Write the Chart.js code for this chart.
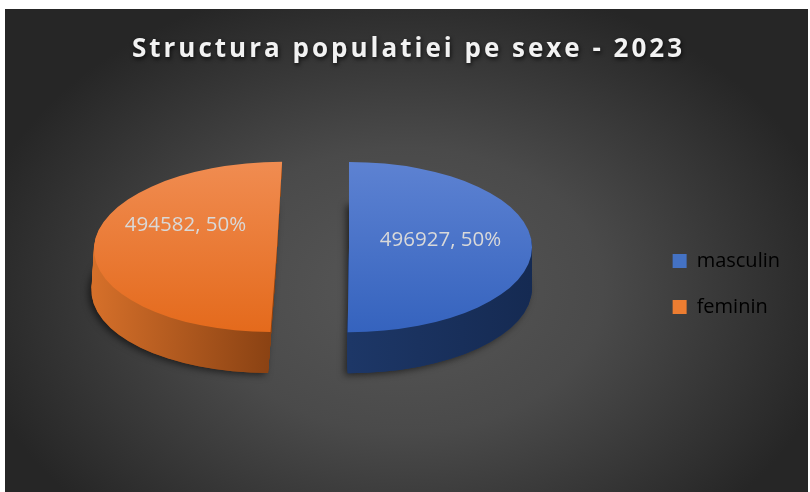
<!DOCTYPE html>
<html>
<head>
<meta charset="utf-8">
<script src="https://cdn.jsdelivr.net/npm/chart.js@4.4.0/dist/chart.umd.min.js"></script>
<style>
html,body{margin:0;padding:0;background:#fff}
#wrap{width:810px;height:492px}
</style>
</head>
<body>
<div id="wrap"><canvas id="chart" width="810" height="492"></canvas></div>
<script>
// data
const labels = ['masculin', 'feminin'];
const values = [496927, 494582];
const titleText = 'Structura populatiei pe sexe - 2023';

// colours: top face (top, bottom), side (cut edge, outer edge), legend swatch
const topColors = [['#5d82d2', '#3563be'], ['#f08c51', '#e46a1c']];
const sideColors = [['#1d3767', '#152a52'], ['#8a4213', '#d6702a']];
const legendColors = ['#4472c4', '#ed7d31'];

// fake 3d geometry
const PIE_X = 313, PIE_Y = 247, RADIUS = 183, SQUASH = 0.465, DEPTH = 41, EXPLODE = 36;
const SKEW = [0, -0.06];
const LABEL_LIFT = [7, 22];

const total = values.reduce((a, b) => a + b, 0);

function place(ctx, el, i, dy) {
  ctx.transform(1, 0, SKEW[i], 1, -SKEW[i] * PIE_Y, 0);
  ctx.translate(PIE_X, PIE_Y + dy);
  ctx.scale(1, SQUASH);
  const mid = (el.startAngle + el.endAngle) / 2;
  ctx.translate(Math.cos(mid) * EXPLODE - el.x, Math.sin(mid) * EXPLODE - el.y);
}
function wedge(ctx, el) {
  ctx.beginPath();
  ctx.moveTo(el.x, el.y);
  ctx.arc(el.x, el.y, el.outerRadius, el.startAngle, el.endAngle);
  ctx.closePath();
}

const pie3d = {
  id: 'pie3d',
  beforeDraw(chart) {
    const ctx = chart.ctx;
    ctx.save();
    ctx.fillStyle = '#fff';
    ctx.fillRect(0, 0, chart.width, chart.height);
    ctx.translate(405, 290);
    ctx.scale(1, 0.72);
    const g = ctx.createRadialGradient(0, 0, 0, 0, 0, 440);
    g.addColorStop(0, '#575757');
    g.addColorStop(0.45, '#4a4a4a');
    g.addColorStop(1, '#262626');
    ctx.fillStyle = g;
    ctx.fillRect(-405 + 5, (9 - 290) / 0.72, 803, 483 / 0.72 + 10);
    ctx.restore();
  },
  beforeDatasetsDraw(chart) {
    const ctx = chart.ctx;
    const meta = chart.getDatasetMeta(0);
    meta.data.forEach((el, i) => {
      const mid = (el.startAngle + el.endAngle) / 2;
      const far = el.x + Math.cos(mid) * el.outerRadius;
      // drop shadow
      ctx.save();
      place(ctx, el, i, DEPTH);
      ctx.shadowColor = 'rgba(0,0,0,0.55)';
      ctx.shadowBlur = 7;
      ctx.shadowOffsetX = -3;
      ctx.shadowOffsetY = 2;
      ctx.fillStyle = sideColors[i][0];
      wedge(ctx, el);
      ctx.fill();
      ctx.restore();
      // side walls
      for (let d = DEPTH; d >= 1; d--) {
        ctx.save();
        place(ctx, el, i, d);
        const g = ctx.createLinearGradient(el.x, 0, far, 0);
        g.addColorStop(0, sideColors[i][0]);
        g.addColorStop(1, sideColors[i][1]);
        ctx.fillStyle = g;
        wedge(ctx, el);
        ctx.fill();
        ctx.restore();
      }
      // top face, drawn by the arc element
      ctx.save();
      place(ctx, el, i, 0);
      el.draw(ctx);
      ctx.restore();
    });
    return false;
  },
  afterDraw(chart) {
    const ctx = chart.ctx;
    const meta = chart.getDatasetMeta(0);
    meta.data.forEach((el, i) => {
      const p = el.tooltipPosition();
      ctx.save();
      place(ctx, el, i, 0);
      const m = ctx.getTransform();
      ctx.restore();
      const s = m.transformPoint(new DOMPoint(p.x, p.y));
      ctx.save();
      ctx.font = '20.5px "Open Sans"';
      ctx.fillStyle = '#d9d9d9';
      ctx.textAlign = 'center';
      ctx.textBaseline = 'middle';
      const pct = Math.round(values[i] / total * 100);
      ctx.fillText(values[i] + ', ' + pct + '%', s.x, s.y - LABEL_LIFT[i]);
      ctx.restore();
    });
  }
};

const chart = new Chart(document.getElementById('chart'), {
  type: 'pie',
  data: {
    labels,
    datasets: [{
      data: values,
      borderWidth: 0,
      backgroundColor: (c) => {
        const {ctx, chartArea} = c.chart;
        if (!chartArea) return legendColors[c.dataIndex];
        const cy = (chartArea.top + chartArea.bottom) / 2;
        const g = ctx.createLinearGradient(0, cy - RADIUS, 0, cy + RADIUS);
        g.addColorStop(0, topColors[c.dataIndex][0]);
        g.addColorStop(1, topColors[c.dataIndex][1]);
        return g;
      }
    }]
  },
  options: {
    responsive: false,
    devicePixelRatio: 1,
    animation: false,
    radius: RADIUS,
    layout: {padding: {left: 5, right: 20, top: 9, bottom: 5}},
    plugins: {
      tooltip: {enabled: false},
      title: {
        display: true,
        text: titleText,
        color: '#f2f2f2',
        font: {family: 'Open Sans', size: 26, weight: 'bold'},
        padding: {top: 25, bottom: 16}
      },
      legend: {
        position: 'right',
        fullSize: false,
        labels: {
          color: '#d9d9d9',
          font: {family: 'Open Sans', size: 20},
          boxWidth: 14,
          boxHeight: 14,
          padding: 26,
          generateLabels: () => labels.map((t, i) => ({
            text: t, fillStyle: legendColors[i], strokeStyle: legendColors[i],
            lineWidth: 0, hidden: false, index: i
          }))
        }
      }
    }
  },
  plugins: [pie3d]
});

// letter-spaced title with a soft shadow
const titleBox = chart.titleBlock;
const drawTitle = titleBox.draw;
titleBox.draw = function () {
  const ctx = this.ctx;
  ctx.save();
  ctx.translate(11, 0);
  ctx.letterSpacing = '3px';
  ctx.shadowColor = 'rgba(0,0,0,0.75)';
  ctx.shadowBlur = 4;
  ctx.shadowOffsetX = 1;
  ctx.shadowOffsetY = 2;
  drawTitle.apply(this, arguments);
  ctx.restore();
};
chart.draw();
</script>
</body>
</html>
